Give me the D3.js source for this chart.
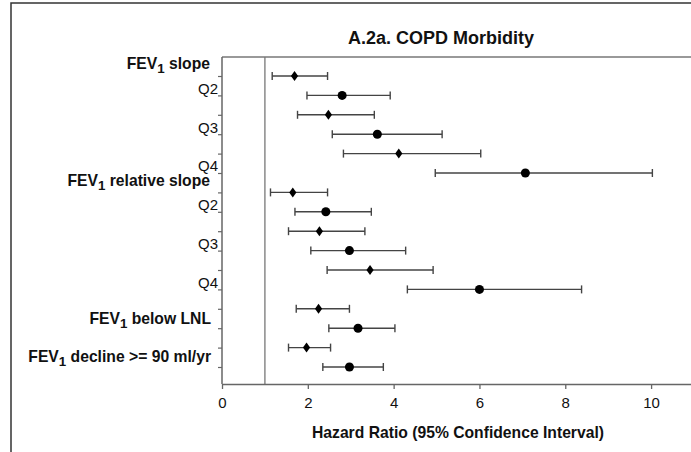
<!DOCTYPE html>
<html>
<head>
<meta charset="utf-8">
<script src="https://cdn.jsdelivr.net/npm/d3@7"></script>
<style>
  body { margin: 0; background: #fff; }
  svg text { font-family: "Liberation Sans", Arial, sans-serif; fill: #111; }
</style>
</head>
<body>
<div id="chart"></div>
<script>
const width = 691, height = 452;

// Hazard ratios and 95% CI, one row per estimate (top to bottom)
const hr    = [1.69, 2.80, 2.48, 3.62, 4.12, 7.07, 1.65, 2.42, 2.27, 2.97, 3.45, 6.00, 2.25, 3.17, 1.97, 2.97];
const lower = [1.17, 1.98, 1.76, 2.57, 2.83, 4.97, 1.13, 1.70, 1.55, 2.07, 2.45, 4.32, 1.73, 2.49, 1.55, 2.35];
const upper = [2.46, 3.92, 3.55, 5.13, 6.03, 10.03, 2.46, 3.48, 3.33, 4.28, 4.92, 8.38, 2.97, 4.03, 2.53, 3.76];
const markers = ['diamond', 'circle', 'diamond', 'circle', 'diamond', 'circle', 'diamond', 'circle',
                 'diamond', 'circle', 'diamond', 'circle', 'diamond', 'circle', 'diamond', 'circle'];

// each label covers a pair of rows
const pairLabels = ['Q2', 'Q3', 'Q4', 'Q2', 'Q3', 'Q4', 'FEV|1| below LNL', 'FEV|1| decline >= 90 ml/yr'];
const pairBold   = [false, false, false, false, false, false, true, true];
// section headers, placed above the pair with that index
const headers = [
    { label: 'FEV|1| slope', pair: 0 },
    { label: 'FEV|1| relative slope', pair: 3 }
];
const xTicks = [0, 2, 4, 6, 8, 10];
const title = 'A.2a. COPD Morbidity';
const xTitle = 'Hazard Ratio (95% Confidence Interval)';

const plot = { left: 222, right: 694, top: 57, bottom: 384 };

const svg = d3.select('#chart')
    .append('svg')
    .attr('width', width)
    .attr('height', height);

// outer frame (left and top edges only visible)
svg.append('path')
    .attr('d', `M11,${height} L11,3 L${width},3`)
    .attr('fill', 'none')
    .attr('stroke', '#333')
    .attr('stroke-width', 1.5);

const x = d3.scaleLinear().domain([0, 11]).range([plot.left, plot.right]);
const y = d3.scaleLinear().domain([1, 16]).range([76, 367]);
const rows = d3.range(1, hr.length + 1);

// plot frame top
svg.append('line')
    .attr('x1', plot.left).attr('x2', width)
    .attr('y1', plot.top).attr('y2', plot.top)
    .attr('stroke', '#777').attr('stroke-width', 1.3);

// reference line at HR = 1
svg.append('line')
    .attr('x1', x(1)).attr('x2', x(1))
    .attr('y1', plot.top).attr('y2', plot.bottom)
    .attr('stroke', '#777').attr('stroke-width', 1.3);

// x axis
const xAxis = svg.append('g')
    .attr('transform', `translate(0,${plot.bottom})`)
    .call(d3.axisBottom(x).tickValues(xTicks).tickSize(5).tickSizeOuter(0).tickPadding(8));
xAxis.select('.domain').attr('stroke', '#666').attr('stroke-width', 1.5);
xAxis.selectAll('.tick line').attr('stroke', '#666').attr('stroke-width', 1.3);
xAxis.selectAll('.tick text').attr('font-size', 15).attr('fill', '#222')
    .style('font-family', '"Liberation Sans", Arial, sans-serif');

// y axis: ticks only
const yAxisG = svg.append('g')
    .attr('transform', `translate(${plot.left},0)`)
    .call(d3.axisLeft(y).tickValues(rows).tickFormat('').tickSize(4).tickSizeOuter(0));
yAxisG.select('.domain').attr('d', `M0,${plot.top}V${plot.bottom}`)
    .attr('stroke', '#666').attr('stroke-width', 1.5);
yAxisG.selectAll('.tick line').attr('stroke', '#666').attr('stroke-width', 1.2);

// helper: write "FEV|1| ..." with subscript 1
function addLabel(sel, str) {
    const parts = str.split('|');
    parts.forEach((p, i) => {
        if (!p) return;
        const t = sel.append('tspan').text(p);
        if (i % 2 === 1) t.attr('font-size', '0.85em').attr('dy', 4);
        else if (i > 0) t.attr('dy', -4);
    });
}

const step = y(2) - y(1);

// pair labels
pairLabels.forEach((lab, i) => {
    const mid = (y(2 * i + 1) + y(2 * i + 2)) / 2;
    const t = svg.append('text')
        .attr('x', pairBold[i] ? 211 : 218)
        .attr('y', mid + (pairBold[i] ? 5 : 8))
        .attr('text-anchor', 'end')
        .attr('font-size', pairBold[i] ? 15.7 : 15)
        .attr('font-weight', pairBold[i] ? 'bold' : 'normal')
        .attr('fill', pairBold[i] ? '#111' : '#333');
    addLabel(t, lab);
});

headers.forEach(h => {
    const t = svg.append('text')
        .attr('x', 210)
        .attr('y', y(2 * h.pair + 1) - 0.65 * step + 6)
        .attr('text-anchor', 'end')
        .attr('font-size', 15.7)
        .attr('font-weight', 'bold');
    addLabel(t, h.label);
});

// error bars
const bars = svg.append('g').selectAll('g')
    .data(rows)
    .enter().append('g')
    .attr('stroke', '#444')
    .attr('stroke-width', 1.4);
bars.append('line')
    .attr('x1', d => x(lower[d - 1])).attr('x2', d => x(upper[d - 1]))
    .attr('y1', d => y(d)).attr('y2', d => y(d));
bars.append('line')
    .attr('x1', d => x(lower[d - 1])).attr('x2', d => x(lower[d - 1]))
    .attr('y1', d => y(d) - 4).attr('y2', d => y(d) + 4);
bars.append('line')
    .attr('x1', d => x(upper[d - 1])).attr('x2', d => x(upper[d - 1]))
    .attr('y1', d => y(d) - 4).attr('y2', d => y(d) + 4);

// point estimates
svg.append('g').selectAll('path')
    .data(rows)
    .enter().append('path')
    .attr('transform', d => `translate(${x(hr[d - 1])},${y(d)})`)
    .attr('d', d => markers[d - 1] === 'circle'
        ? d3.symbol(d3.symbolCircle, 64)()
        : 'M0,-5L3.6,0L0,5L-3.6,0Z')
    .attr('fill', '#000');

// title and axis title
svg.append('text')
    .attr('x', 441).attr('y', 44)
    .attr('text-anchor', 'middle')
    .attr('font-size', 18)
    .attr('font-weight', 'bold')
    .text(title);

svg.append('text')
    .attr('x', 458).attr('y', 438)
    .attr('text-anchor', 'middle')
    .attr('font-size', 15.7)
    .attr('font-weight', 'bold')
    .text(xTitle);
</script>
</body>
</html>
